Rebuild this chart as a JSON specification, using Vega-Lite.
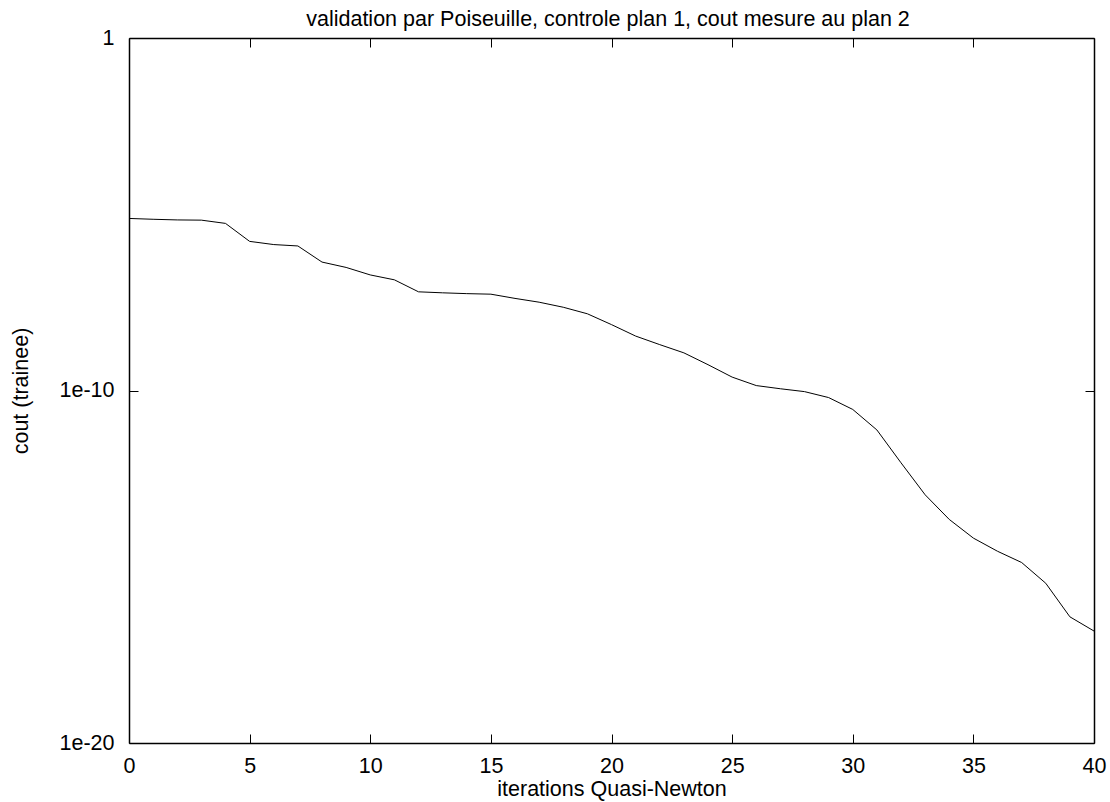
{
  "$schema": "https://vega.github.io/schema/vega-lite/v6.json",
  "width": 965,
  "height": 705,
  "autosize": {"type": "none"},
  "padding": {"left": 129, "top": 38, "right": 16, "bottom": 59},
  "background": "white",
  "config": {
    "view": {"stroke": null},
    "font": "Liberation Sans",
    "axis": {
      "grid": false,
      "domainColor": "black",
      "domainWidth": 1.5,
      "tickColor": "black",
      "tickWidth": 1,
      "tickSize": -9,
      "labelColor": "black",
      "labelFont": "Liberation Sans",
      "labelFontSize": 21.5,
      "titleFont": "Liberation Sans",
      "titleFontSize": 21.5,
      "titleFontWeight": "normal",
      "titleColor": "black",
      "labelOverlap": false,
      "labelFlush": false
    }
  },
  "data": {
    "values": [
      {"iter": 0, "cout": 7.6e-6},
      {"iter": 1, "cout": 7.2e-6},
      {"iter": 2, "cout": 6.9e-6},
      {"iter": 3, "cout": 6.8e-6},
      {"iter": 4, "cout": 5.5e-6},
      {"iter": 5, "cout": 1.7e-6},
      {"iter": 6, "cout": 1.38e-6},
      {"iter": 7, "cout": 1.26e-6},
      {"iter": 8, "cout": 4.4e-7},
      {"iter": 9, "cout": 3.1e-7},
      {"iter": 10, "cout": 1.9e-7},
      {"iter": 11, "cout": 1.38e-7},
      {"iter": 12, "cout": 6.3e-8},
      {"iter": 13, "cout": 5.9e-8},
      {"iter": 14, "cout": 5.6e-8},
      {"iter": 15, "cout": 5.4e-8},
      {"iter": 16, "cout": 4.1e-8},
      {"iter": 17, "cout": 3.2e-8},
      {"iter": 18, "cout": 2.3e-8},
      {"iter": 19, "cout": 1.5e-8},
      {"iter": 20, "cout": 7.4e-9},
      {"iter": 21, "cout": 3.5e-9},
      {"iter": 22, "cout": 2.0e-9},
      {"iter": 23, "cout": 1.17e-9},
      {"iter": 24, "cout": 5.4e-10},
      {"iter": 25, "cout": 2.4e-10},
      {"iter": 26, "cout": 1.38e-10},
      {"iter": 27, "cout": 1.12e-10},
      {"iter": 28, "cout": 9.3e-11},
      {"iter": 29, "cout": 6.3e-11},
      {"iter": 30, "cout": 2.9e-11},
      {"iter": 31, "cout": 7.6e-12},
      {"iter": 32, "cout": 8.9e-13},
      {"iter": 33, "cout": 1.1e-13},
      {"iter": 34, "cout": 2.2e-14},
      {"iter": 35, "cout": 6.5e-15},
      {"iter": 36, "cout": 2.75e-15},
      {"iter": 37, "cout": 1.32e-15},
      {"iter": 38, "cout": 3.4e-16},
      {"iter": 39, "cout": 3.8e-17},
      {"iter": 40, "cout": 1.5e-17}
    ]
  },
  "layer": [
    {
      "mark": {"type": "line", "color": "black", "strokeWidth": 1},
      "encoding": {
        "x": {
          "field": "iter",
          "type": "quantitative",
          "scale": {"domain": [0, 40], "nice": false, "zero": false},
          "axis": {
            "orient": "bottom",
            "values": [0, 5, 10, 15, 20, 25, 30, 35, 40],
            "labelPadding": 21,
            "title": "iterations Quasi-Newton",
            "titleX": 482.5,
            "titleY": 52,
            "titleBaseline": "alphabetic"
          }
        },
        "y": {
          "field": "cout",
          "type": "quantitative",
          "scale": {"type": "log", "domain": [1e-20, 1], "nice": false},
          "axis": {
            "orient": "left",
            "values": [1e-20, 1e-10, 1],
            "labelExpr": "datum.value >= 1 ? '1' : format(datum.value, '.0e')",
            "labelPadding": 24,
            "title": "cout (trainee)",
            "titleX": -108,
            "titleY": 352.5,
            "titleBaseline": "middle"
          }
        }
      }
    },
    {
      "mark": {"type": "line", "opacity": 0},
      "encoding": {
        "x": {
          "field": "iter",
          "type": "quantitative",
          "axis": {
            "orient": "top",
            "values": [0, 5, 10, 15, 20, 25, 30, 35, 40],
            "labels": false,
            "title": "validation par Poiseuille, controle plan 1, cout mesure au plan 2",
            "titleX": 478.5,
            "titleY": -12.5,
            "titleBaseline": "alphabetic"
          }
        },
        "y": {
          "field": "cout",
          "type": "quantitative",
          "axis": {
            "orient": "right",
            "values": [1e-20, 1e-10, 1],
            "labels": false,
            "title": null
          }
        }
      }
    }
  ],
  "resolve": {"axis": {"x": "independent", "y": "independent"}}
}
